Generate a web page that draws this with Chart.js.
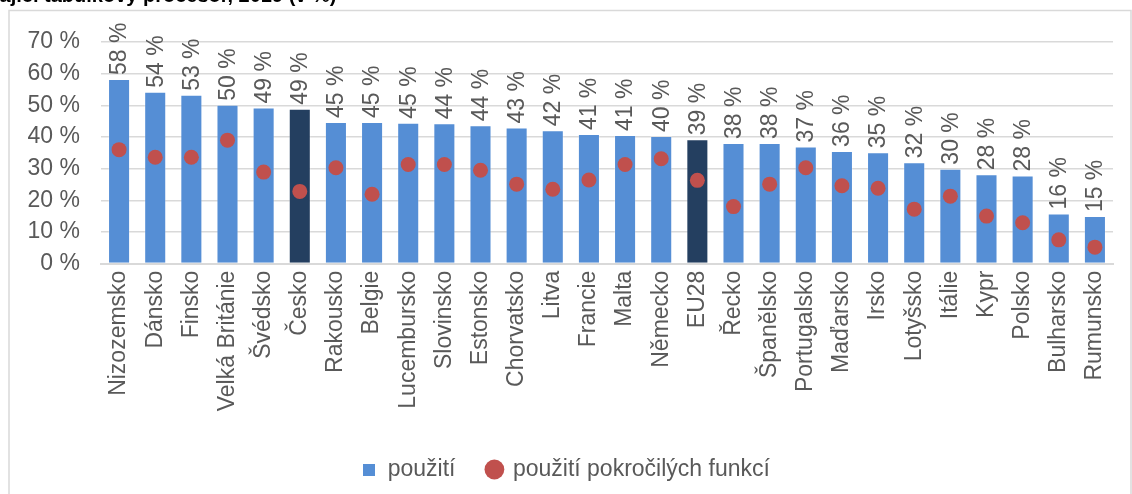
<!DOCTYPE html>
<html>
<head>
<meta charset="utf-8">
<script src="https://cdn.jsdelivr.net/npm/chart.js@4.4.0/dist/chart.umd.min.js"></script>
<style>
  html, body { margin: 0; padding: 0; background: #fff; }
  #wrap { width: 1132px; height: 494px; position: relative; }
</style>
</head>
<body>
<div id="wrap"><canvas id="chart_tab"></canvas></div>
<script>
var zeme = ['Nizozemsko', 'Dánsko', 'Finsko', 'Velká Británie', 'Švédsko', 'Česko', 'Rakousko', 'Belgie',
    'Lucembursko', 'Slovinsko', 'Estonsko', 'Chorvatsko', 'Litva', 'Francie', 'Malta', 'Německo', 'EU28',
    'Řecko', 'Španělsko', 'Portugalsko', 'Maďarsko', 'Irsko', 'Lotyšsko', 'Itálie', 'Kypr', 'Polsko',
    'Bulharsko', 'Rumunsko'];
var pouziti = [58.3, 54.3, 53.3, 50.2, 49.3, 48.9, 44.7, 44.7,
    44.5, 44.3, 43.7, 43.0, 42.1, 40.9, 40.6, 40.3, 39.3,
    38.1, 38.1, 37.0, 35.6, 35.2, 32.0, 30.0, 28.2, 27.8,
    15.8, 15.0];
var pokrocile = [36.0, 33.6, 33.6, 39.0, 28.9, 22.8, 30.3, 21.9,
    31.3, 31.3, 29.5, 25.1, 23.5, 26.4, 31.3, 33.1, 26.3,
    18.0, 25.1, 30.3, 24.6, 23.8, 17.2, 21.3, 15.0, 12.9,
    7.5, 5.2];
var zvyraznene = ['Česko', 'EU28'];
var yTicks = [0, 10, 20, 30, 40, 50, 60, 70];

var seda = '#595959';
var pismo = "'Liberation Sans', Arial, sans-serif";
var velikost = 23;

var barColors = zeme.map(function (z) {
    return zvyraznene.indexOf(z) >= 0 ? '#243F60' : '#558ED5';
});

// ctverecek do legendy (pointStyle 'rect' je moc maly)
var ctverec = document.createElement('canvas');
ctverec.width = 12;
ctverec.height = 12;
var c2 = ctverec.getContext('2d');
c2.fillStyle = '#558ED5';
c2.fillRect(0, 0, 12, 12);

// ramecek + useknuty nadpis nahore
var ramecek = {
    id: 'ramecek',
    beforeDraw: function (chart) {
        var ctx = chart.ctx;
        ctx.save();
        ctx.fillStyle = '#fff';
        ctx.fillRect(0, 0, chart.width, chart.height);
        ctx.strokeStyle = '#d9d9d9';
        ctx.lineWidth = 1.5;
        ctx.strokeRect(9, 10.5, chart.width - 10, chart.height + 20);
        ctx.font = 'bold 20px ' + pismo;
        ctx.fillStyle = '#000';
        ctx.textBaseline = 'alphabetic';
        var pred = 'Jednotlivci používající tabulkový ';
        var x = 143 - ctx.measureText(pred).width;
        ctx.fillText(pred + 'procesor, 2019 (v %)', x, 2);
        ctx.restore();
    }
};

// popisky hodnot nad sloupci, otocene
var popisky = {
    id: 'popisky',
    afterDatasetsDraw: function (chart) {
        var ctx = chart.ctx;
        var meta = chart.getDatasetMeta(0);
        ctx.save();
        ctx.font = velikost + 'px ' + pismo;
        ctx.fillStyle = seda;
        ctx.textAlign = 'left';
        ctx.textBaseline = 'middle';
        meta.data.forEach(function (bar, i) {
            ctx.save();
            ctx.translate(bar.x, bar.y - 4);
            ctx.rotate(-Math.PI / 2);
            ctx.fillText(Math.round(pouziti[i]) + ' %', 0, 1);
            ctx.restore();
        });
        ctx.restore();
    }
};

var ctx = document.getElementById('chart_tab').getContext('2d');
var chart = new Chart(ctx, {
    data: {
        labels: zeme,
        datasets: [{
            type: 'bar',
            label: 'použití',
            data: pouziti,
            backgroundColor: barColors,
            borderColor: 'rgba(255,255,255,0.25)',
            borderWidth: 1,
            barPercentage: 0.61,
            categoryPercentage: 1,
            pointStyle: ctverec,
            order: 2
        }, {
            type: 'line',
            label: 'použití pokročilých funkcí',
            data: pokrocile,
            showLine: false,
            pointRadius: 7.5,
            pointHoverRadius: 7.5,
            pointBackgroundColor: '#C0504D',
            pointBorderWidth: 0,
            backgroundColor: '#C0504D',
            borderColor: '#C0504D',
            pointStyle: 'circle',
            order: 1
        }]
    },
    options: {
        responsive: true,
        maintainAspectRatio: false,
        animation: false,
        layout: {
            padding: { left: 19, top: 42, right: 19, bottom: 3 }
        },
        plugins: {
            tooltip: { enabled: false },
            legend: {
                position: 'bottom',
                labels: {
                    usePointStyle: true,
                    boxWidth: 14,
                    boxHeight: 14,
                    padding: 32,
                    color: seda,
                    font: { family: pismo, size: velikost },
                    sort: function (a, b) { return a.datasetIndex - b.datasetIndex; }
                }
            }
        },
        scales: {
            x: {
                grid: { display: false, drawTicks: false },
                border: { color: '#d9d9d9', width: 2 },
                ticks: {
                    autoSkip: false,
                    maxRotation: 90,
                    minRotation: 90,
                    padding: 7,
                    color: seda,
                    font: { family: pismo, size: velikost }
                },
                afterFit: function (scale) {
                    scale.height = 162.4;
                }
            },
            y: {
                min: 0,
                max: 70,
                afterBuildTicks: function (scale) {
                    scale.ticks = yTicks.map(function (v) { return { value: v }; });
                },
                grid: { color: '#d9d9d9', lineWidth: 1.5, drawTicks: false },
                border: { display: false },
                ticks: {
                    padding: 21,
                    color: seda,
                    font: { family: pismo, size: velikost },
                    callback: function (v) { return v + ' %'; }
                },
                afterFit: function (scale) {
                    scale.width = 82;
                }
            }
        }
    },
    plugins: [ramecek, popisky]
});
</script>
</body>
</html>
